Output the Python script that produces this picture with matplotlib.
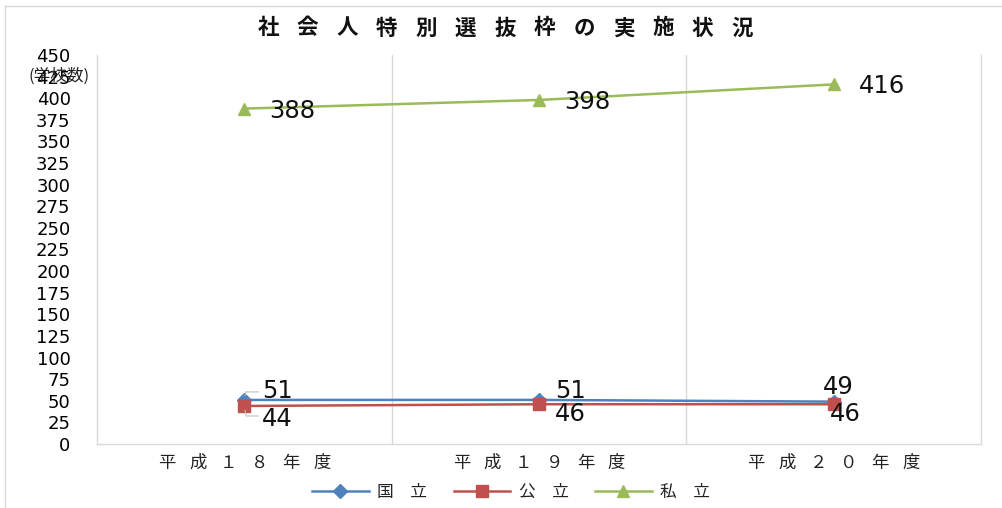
import matplotlib
matplotlib.use("Agg")
import matplotlib.pyplot as plt
from matplotlib.lines import Line2D
from matplotlib.transforms import offset_copy

plt.rcParams['font.family'] = ['Noto Sans CJK JP', 'DejaVu Sans']

categories = ["平成１８年度", "平成１９年度", "平成２０年度"]
series_names = ["国立", "公立", "私立"]
national = [51, 51, 49]
public = [44, 46, 46]
private = [388, 398, 416]
yticks = list(range(0, 451, 25))

colors = ["#4F81BD", "#C0504D", "#9BBB59"]
markers = ["D", "s", "^"]
msizes = [7, 8, 9]

W, H = 1003, 508
fig = plt.figure(figsize=(W / 100, H / 100), dpi=100)
ax = fig.add_axes([97 / W, 1 - 444 / H, (981 - 97) / W, (444 - 55) / H])

x = list(range(len(categories)))
data = [national, public, private]
lines = []
for vals, c, m, ms, name in zip(data, colors, markers, msizes, series_names):
    ln, = ax.plot(x, vals, color=c, lw=1.8, marker=m, ms=ms, label=name, zorder=3)
    lines.append(ln)

ax.set_xlim(-0.5, len(categories) - 0.5)
ax.set_ylim(0, 450)
ax.set_yticks(yticks)
ax.set_yticklabels([str(v) for v in yticks], family='DejaVu Sans', fontsize=13)
ax.tick_params(axis='y', length=0, pad=19)
ax.tick_params(axis='x', length=0)
ax.set_xticks(x)
ax.set_xticklabels([""] * len(categories))
for sp in ax.spines.values():
    sp.set_color("#D9D9D9")
    sp.set_linewidth(1)
ax.spines['top'].set_visible(False)
for b in [0.5, 1.5]:
    ax.axvline(b, color="#D9D9D9", lw=1, zorder=1)

def spaced(target, xc, yc, s, step, transform, **kw):
    n = len(s)
    start = -(n - 1) / 2 * step
    for i, ch in enumerate(s):
        tr = offset_copy(transform, fig=fig, x=start + i * step, y=0, units='dots')
        target.text(xc, yc, ch, transform=tr, ha='center', va='center', **kw)

# x tick labels
for xi, lab in zip(x, categories):
    spaced(ax, xi, -19 / 389 * 450, lab, 31, ax.transData, fontsize=12.5, color="#222222",
           clip_on=False)

# title
spaced(fig, 505 / W, 1 - 28 / H, "社会人特別選抜枠の実施状況", 39.5, fig.transFigure,
       fontsize=15.5, fontweight='bold', color="#111111")

# y label
fig.text(29 / W, 1 - 76 / H, "(学校数)", fontsize=12, ha='left', va='center', color="#222222")

# data labels
lab_kw = dict(textcoords='offset pixels', fontsize=17.5, family='DejaVu Sans', color="#111111",
              va='center', annotation_clip=False)
for i, v in enumerate(private):
    ax.annotate(str(v), (x[i], v), xytext=(25, -2), ha='left', **lab_kw)

nat_off = [(18, 9, 'left'), (16, 9, 'left'), (5, 15, 'center')]
pub_off = [(18, -13, 'left'), (16, -10, 'left'), (12, -10, 'center')]
for i, v in enumerate(national):
    dx, dy, ha = nat_off[i]
    ax.annotate(str(v), (x[i], v), xytext=(dx, dy), ha=ha, **lab_kw)
for i, v in enumerate(public):
    dx, dy, ha = pub_off[i]
    ax.annotate(str(v), (x[i], v), xytext=(dx, dy), ha=ha, **lab_kw)

# leader lines for first point
ax.annotate("", (x[0], national[0]), xytext=(14, 8), textcoords='offset pixels',
            arrowprops=dict(arrowstyle='-', color="#BFBFBF", lw=0.8,
                            connectionstyle="angle,angleA=0,angleB=80,rad=0",
                            shrinkA=0, shrinkB=3))
ax.annotate("", (x[0], public[0]), xytext=(14, -10), textcoords='offset pixels',
            arrowprops=dict(arrowstyle='-', color="#BFBFBF", lw=0.8,
                            connectionstyle="angle,angleA=0,angleB=-80,rad=0",
                            shrinkA=0, shrinkB=3))

# legend
leg = fig.legend(lines, ["国\u3000立", "公\u3000立", "私\u3000立"], loc='center',
                 bbox_to_anchor=(511 / W, 1 - 492 / H),
                 ncol=3, frameon=False, fontsize=12, handlelength=3.4, columnspacing=1.6,
                 handletextpad=0.5)
for t in leg.get_texts():
    t.set_color("#222222")

# outer frame lines
fig.add_artist(Line2D([5 / W, 5 / W], [0, 1 - 6 / H], transform=fig.transFigure, color="#D9D9D9", lw=1))
fig.add_artist(Line2D([5 / W, 1], [1 - 6 / H, 1 - 6 / H], transform=fig.transFigure, color="#D9D9D9", lw=1))

fig.savefig("out.png", dpi=100)
